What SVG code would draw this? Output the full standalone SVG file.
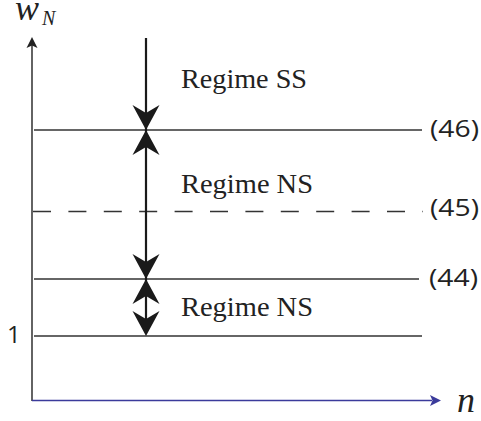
<svg xmlns="http://www.w3.org/2000/svg" width="481" height="421" viewBox="0 0 481 421">
  <style>
    .level { stroke: #333; stroke-width: 1.5; fill: none; }
    .dash { stroke-dasharray: 18 17.4; }
    .flow { stroke: #1a1a1a; stroke-width: 2.2; fill: none; }
    .head { fill: #1a1a1a; stroke: none; }
    .regime { font-family: "Liberation Serif", "Times New Roman", serif; font-size: 27px; fill: #222; }
    .eqref { font-family: "Open Sans", "Noto Sans", sans-serif; font-size: 24px; fill: #222; }
    .math { font-family: "Liberation Serif", "Times New Roman", serif; font-style: italic; fill: #222; }
  </style>
  <defs>
    <!-- concave arrowhead, tip at origin, pointing down -->
    <path id="tipDown" class="head" d="M0,0 L-13.5,-25 L0,-17 L13.5,-25 Z"/>
    <path id="tipUp" class="head" d="M0,0 L-13.5,25 L0,17 L13.5,25 Z"/>
  </defs>

  <!-- axes -->
  <g id="axis-w">
    <line x1="32" y1="401" x2="32" y2="45" stroke="#222" stroke-width="1.4"/>
    <path d="M32,37 L26.5,48 L32,45.5 L37.5,48 Z" fill="#222"/>
    <text class="math" x="15" y="20" font-size="36">w</text>
    <text class="math" x="42" y="25" font-size="20">N</text>
  </g>
  <g id="axis-n">
    <line x1="32" y1="400.5" x2="432" y2="400.5" stroke="#3b3b9b" stroke-width="1.6"/>
    <path d="M441,400.5 L430,395 L432.5,400.5 L430,406 Z" fill="#3b3b9b"/>
    <text class="math" x="457" y="412" font-size="36">n</text>
  </g>

  <!-- threshold levels -->
  <g id="level-46">
    <line class="level" x1="34" y1="130" x2="422" y2="130"/>
    <text class="eqref" x="430" y="137" textLength="49" lengthAdjust="spacingAndGlyphs">(46)</text>
  </g>
  <g id="level-45">
    <line class="level dash" x1="33" y1="211.5" x2="423" y2="211.5"/>
    <text class="eqref" x="430" y="216" textLength="49" lengthAdjust="spacingAndGlyphs">(45)</text>
  </g>
  <g id="level-44">
    <line class="level" x1="34" y1="279" x2="419" y2="279"/>
    <text class="eqref" x="429" y="286" textLength="49" lengthAdjust="spacingAndGlyphs">(44)</text>
  </g>
  <g id="level-1">
    <line class="level" x1="34" y1="336" x2="422" y2="336"/>
    <text class="eqref" x="7" y="343">1</text>
  </g>

  <!-- regime labels -->
  <g id="regime-ss">
    <text class="regime" x="181" y="88" textLength="126" lengthAdjust="spacingAndGlyphs">Regime SS</text>
  </g>
  <g id="regime-ns-upper">
    <text class="regime" x="181" y="193" textLength="132" lengthAdjust="spacingAndGlyphs">Regime NS</text>
  </g>
  <g id="regime-ns-lower">
    <text class="regime" x="181" y="316" textLength="132" lengthAdjust="spacingAndGlyphs">Regime NS</text>
  </g>

  <!-- flow connectors -->
  <g id="connectors">
    <line class="flow" x1="146" y1="38" x2="146" y2="330"/>
    <use href="#tipDown" x="146" y="130"/>
    <use href="#tipUp" x="146" y="130"/>
    <use href="#tipDown" x="146" y="279"/>
    <use href="#tipUp" x="146" y="279"/>
    <use href="#tipDown" x="146" y="336"/>
  </g>
</svg>
